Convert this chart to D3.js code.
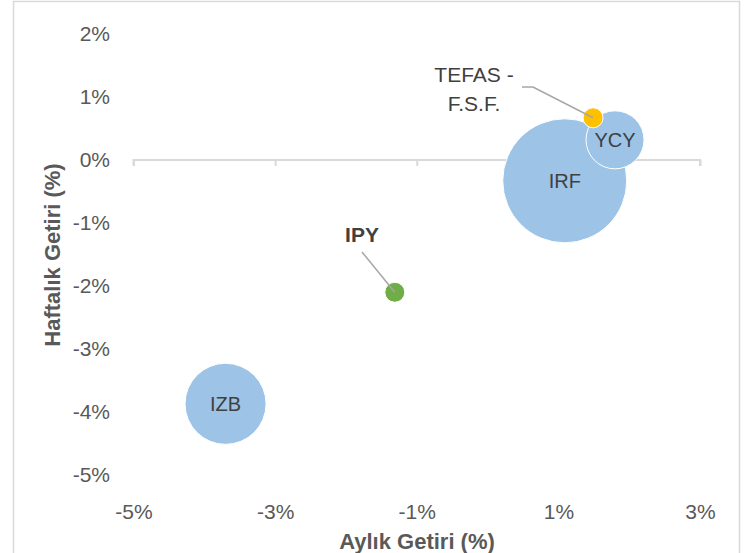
<!DOCTYPE html>
<html lang="tr">
<head>
<meta charset="utf-8">
<title>Aylık / Haftalık Getiri</title>
<script src="https://d3js.org/d3.v7.min.js"></script>
<style>
  body { margin: 0; background: #fff; }
  .tick text { font-family: "Liberation Sans", Arial, sans-serif; font-size: 21px; fill: #595959; }
  .axis-title { font-family: "Liberation Sans", Arial, sans-serif; font-size: 22px; font-weight: bold; fill: #595959; }
  .bubble-label { font-family: "Liberation Sans", Arial, sans-serif; font-size: 20px; fill: #404040; }
</style>
</head>
<body>
<script>
// fund names, monthly return (%), weekly return (%), relative bubble size
const funds = ["IZB", "IPY", "IRF", "YCY", "TEFAS - F.S.F."];
const monthly = [-3.70, -1.31, 1.09, 1.80, 1.49];
const weekly = [-3.87, -2.10, -0.33, 0.32, 0.67];
const sizes = [42.7, 2.6, 100, 21.9, 2.6];
const colors = ["#9dc3e6", "#70ad47", "#9dc3e6", "#9dc3e6", "#ffc000"];
const xTicks = [-5, -3, -1, 1, 3];
const yTicks = [2, 1, 0, -1, -2, -3, -4, -5];

const w = 751, h = 553;
const svg = d3.select("body").append("svg")
  .attr("width", w)
  .attr("height", h);

// chart area border
svg.append("rect")
  .attr("x", 13.5).attr("y", 1.5)
  .attr("width", 726).attr("height", 600)
  .attr("fill", "#fff")
  .attr("stroke", "#d9d9d9")
  .attr("stroke-width", 1.5);

const x = d3.scaleLinear().domain([-5, 3]).range([133.5, 700]);
const y = d3.scaleLinear().domain([-5, 2]).range([475, 34]);
const r = d3.scaleSqrt().domain([0, 100]).range([0, 62]);

// horizontal axis sits on y = 0
const xAxis = svg.append("g")
  .attr("transform", `translate(0,${y(0)})`)
  .call(d3.axisBottom(x).tickValues(xTicks).tickSize(6).tickFormat(""));
xAxis.select(".domain").attr("stroke", "#d9d9d9").attr("stroke-width", 2)
  .attr("d", `M${x(-5)},6V0H${x(3)}V6`);
xAxis.selectAll(".tick line").attr("stroke", "#d9d9d9").attr("stroke-width", 2);

// x tick labels along the bottom
const xLabels = svg.append("g")
  .attr("transform", "translate(0,519)")
  .call(d3.axisBottom(x).tickValues(xTicks).tickSize(0).tickPadding(0)
    .tickFormat(d => d + "%"));
xLabels.select(".domain").remove();
xLabels.selectAll(".tick text").attr("dy", 0);

// y tick labels, no line
const yAxis = svg.append("g")
  .attr("transform", "translate(110,0)")
  .call(d3.axisLeft(y).tickValues(yTicks).tickSize(0).tickPadding(0)
    .tickFormat(d => d + "%"));
yAxis.select(".domain").remove();

svg.append("text")
  .attr("class", "axis-title")
  .attr("x", 417).attr("y", 549)
  .attr("text-anchor", "middle")
  .text("Aylık Getiri (%)");

svg.append("text")
  .attr("class", "axis-title")
  .attr("transform", "translate(60,255) rotate(-90)")
  .attr("text-anchor", "middle")
  .text("Haftalık Getiri (%)");

// bubbles
const data = funds.map((name, i) => ({
  name, mx: monthly[i], wy: weekly[i], size: sizes[i], color: colors[i]
}));

svg.append("g").selectAll("circle")
  .data(data)
  .join("circle")
  .attr("cx", d => x(d.mx))
  .attr("cy", d => y(d.wy))
  .attr("r", d => r(d.size))
  .attr("fill", d => d.color)
  .attr("stroke", "#fff")
  .attr("stroke-width", 1);

// labels inside the big bubbles
svg.append("g").selectAll("text")
  .data(data.filter(d => ["IZB", "IRF", "YCY"].includes(d.name)))
  .join("text")
  .attr("class", "bubble-label")
  .attr("x", d => x(d.mx))
  .attr("y", d => y(d.wy) + 7)
  .attr("text-anchor", "middle")
  .text(d => d.name);

// leader lines
const ipy = data[1], tefas = data[4];
svg.append("path")
  .attr("d", `M362,252L${x(ipy.mx)},${y(ipy.wy)}`)
  .attr("stroke", "#a6a6a6").attr("stroke-width", 1.5).attr("fill", "none");
svg.append("path")
  .attr("d", `M522,87H533L${x(tefas.mx)},${y(tefas.wy)}`)
  .attr("stroke", "#a6a6a6").attr("stroke-width", 1.5).attr("fill", "none");

svg.append("text")
  .attr("class", "bubble-label")
  .attr("x", 362).attr("y", 242)
  .attr("text-anchor", "middle")
  .attr("font-weight", "bold")
  .style("font-size", "21px")
  .text("IPY");

const tLabel = svg.append("text")
  .attr("class", "bubble-label")
  .attr("text-anchor", "middle")
  .style("font-size", "21px");
tLabel.append("tspan").attr("x", 474).attr("y", 82).text("TEFAS -");
tLabel.append("tspan").attr("x", 474).attr("y", 111).text("F.S.F.");
</script>
</body>
</html>
